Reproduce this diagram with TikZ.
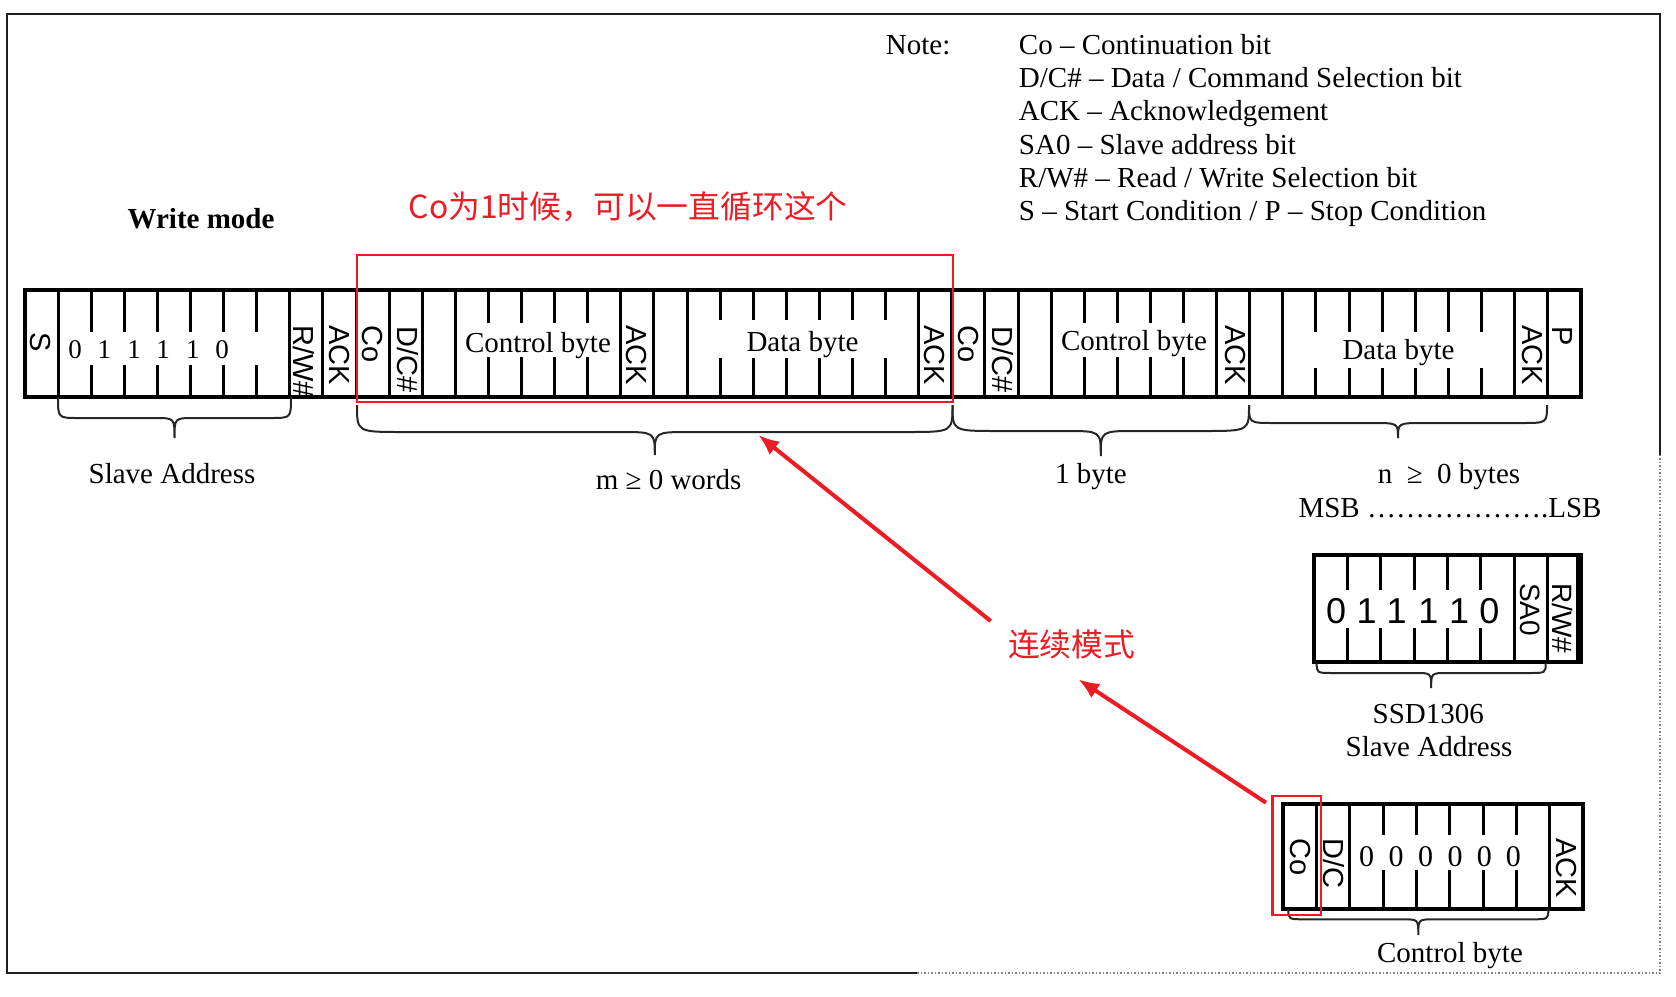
\documentclass[tikz,border=0pt]{standalone}
\usepackage{fontspec}
\setmainfont{Liberation Serif}
\newfontfamily\arialf{Liberation Sans}
\newfontfamily\cjkf{Noto Sans CJK SC}
\usetikzlibrary{arrows.meta}
\definecolor{myred}{RGB}{237,28,36}
\definecolor{framecol}{RGB}{30,30,30}
\newcommand{\drawbrace}[7]{%
  \pgfmathsetmacro{\bxm}{(#1+#2)/2}%
  \draw[bracel] (#1,#3) .. controls (#1,#4) .. ({#1+#6},#4) -- ({\bxm-#7},#4)
    .. controls (\bxm,#4) .. (\bxm,#5) .. controls (\bxm,#4) .. ({\bxm+#7},#4)
    -- ({#2-#6},#4) .. controls (#2,#4) .. (#2,#3);}
\tikzset{
  outer/.style={line width=4pt, draw=black},
  tick/.style={line width=3pt, draw=black},
  bracel/.style={line width=2pt, draw=black!85},
  gapbox/.style={fill=white, draw=none},
  serif/.style={font=\fontsize{29}{33}\selectfont, inner sep=0pt},
  lab/.style={font=\arialf\fontsize{29}{33}\selectfont, rotate=-90, anchor=west, inner sep=0pt},
  labc/.style={font=\arialf\fontsize{29}{33}\selectfont, rotate=-90, inner sep=0pt},
  lab28/.style={font=\arialf\fontsize{28}{32}\selectfont, rotate=-90, anchor=west, inner sep=0pt},
  digs/.style={font=\fontsize{27}{30}\selectfont, inner sep=0pt, anchor=base},
  digz/.style={font=\fontsize{30}{33}\selectfont, inner sep=0pt, anchor=base},
  digsans/.style={font=\arialf\fontsize{36}{40}\selectfont, inner sep=0pt, anchor=base},
  notetext/.style={font=\fontsize{29}{33}\selectfont, inner sep=0pt, anchor=base west},
  redtext/.style={font=\cjkf\fontsize{31.8}{36}\selectfont, text=myred, inner sep=0pt},
  redbox/.style={draw=myred, line width=2.5pt},
  redarrow/.style={draw=myred, line width=4pt, -{Latex[length=21pt,width=17pt]}},
  frame/.style={draw=framecol, line width=2.5pt},
  framedot/.style={draw=gray, line width=1.5pt, dotted}
}
\begin{document}
\begin{tikzpicture}[x=1pt,y=-1pt]
\useasboundingbox (0,0) rectangle (1676,996);
% frame
\draw[frame] (1660,455) -- (1660,14) -- (7,14) -- (7,973) -- (917,973);
\draw[framedot] (917,973) -- (1660,973) -- (1660,455);

% note block
\node[notetext] (note) at (885.7,54) {Note:};
\node[notetext] (n1) at (1018.75,54) {Co – Continuation bit};
\node[notetext] (n2) at (1018.75,87.3) {D/C\# – Data / Command Selection bit};
\node[notetext] (n3) at (1018.75,120.7) {ACK – Acknowledgement};
\node[notetext] (n4) at (1018.75,154) {SA0 – Slave address bit};
\node[notetext] (n5) at (1018.75,187.3) {R/W\# – Read / Write Selection bit};
\node[notetext] (n6) at (1018.75,220.7) {S – Start Condition / P – Stop Condition};

\node[notetext, font=\bfseries\fontsize{29}{33}\selectfont] (wm) at (127.4,228) {Write mode};
\node[redtext, anchor=base west] (loop) at (408.7,218) {Co为1时候，可以一直循环这个};

% main bar
\foreach \i in {1,...,46}
  \draw[tick] ({25+\i*33.1},290) -- ({25+\i*33.1},397);
\draw[outer] (25,290) rectangle (1580.7,397);
% gaps for texts
\fill[gapbox] (60,332) rectangle (259,365);
\fill[gapbox] (458,323) rectangle (619,357);
\fill[gapbox] (690,320) rectangle (917,358);
\fill[gapbox] (1053,323) rectangle (1215,357);
\fill[gapbox] (1285,332) rectangle (1513,368);

% slave address digits
\node[digs] (d1) at (75,358) {0};
\node[digs] (d2) at (104.3,358) {1};
\node[digs] (d3) at (134,358) {1};
\node[digs] (d4) at (163.2,358) {1};
\node[digs] (d5) at (192.9,358) {1};
\node[digs] (d6) at (222,358) {0};

\node[serif, anchor=base] (cb1) at (538,352) {Control byte};
\node[serif, anchor=base] (db1) at (802.5,351.7) {Data byte};
\node[serif, anchor=base] (cb2) at (1134,350) {Control byte};
\node[serif, anchor=base] (db2) at (1398.5,359.3) {Data byte};

% rotated bit labels
\node[labc] (ls) at (40,342) {S};
\node[lab] (lrw) at (304,325) {R/W\#};
\node[lab] (lack1) at (339.3,325) {ACK};
\node[lab] (lco1) at (372.3,325) {Co};
\node[lab] (ldc1) at (408,326) {D/C\#};
\node[lab] (lack2) at (636,325) {ACK};
\node[lab] (lack3) at (934,325) {ACK};
\node[lab] (lco2) at (968,325) {Co};
\node[lab] (ldc2) at (1003,326) {D/C\#};
\node[lab] (lack4) at (1235,325) {ACK};
\node[lab] (lack5) at (1532,325) {ACK};
\node[lab] (lp) at (1562,326) {P};

% red loop box
\draw[redbox] (357,255) rectangle (953,402);

% braces
\drawbrace{58}{291}{397}{418}{438}{20}{20}
\drawbrace{357}{952.5}{405}{432}{455}{45}{35}
\drawbrace{952.5}{1249}{405}{431}{456}{45}{35}
\drawbrace{1249}{1547}{405}{423}{438}{25}{26}

\node[serif, anchor=base] (lsa) at (172,483) {Slave Address};
\node[serif, anchor=base] (lm) at (668.6,489) {m ≥ 0 words};
\node[serif, anchor=base] (l1) at (1091,483) {1 byte};
\node[serif, anchor=base] (ln) at (1449,483) {n~~≥~~0 bytes};
\node[serif, anchor=base] (lmsb) at (1450,517) {MSB ……………….LSB};

% SSD1306 slave address box
\foreach \i in {1,...,7}
  \draw[tick] ({1314.3+\i*33.3},555) -- ({1314.3+\i*33.3},662);
\draw[outer] (1314.3,555) rectangle (1580.7,662);
\draw[line width=3pt] (1577.5,557) -- (1577.5,660);
\fill[gapbox] (1317,590) rectangle (1511,628);
\node[digsans] (s1) at (1336,623) {0};
\node[digsans] (s2) at (1366.7,623) {1};
\node[digsans] (s3) at (1396.7,623) {1};
\node[digsans] (s4) at (1428.3,623) {1};
\node[digsans] (s5) at (1459,623) {1};
\node[digsans] (s6) at (1489.3,623) {0};
\node[lab28] (lsa0) at (1530,583) {SA0};
\node[lab28] (lrw2) at (1562,583) {R/W\#};
\drawbrace{1316.7}{1545.7}{663}{673}{688}{17}{16}
\node[serif, anchor=base] (lssd) at (1428.3,723) {SSD1306};
\node[serif, anchor=base] (lsa2) at (1429,756) {Slave Address};

% control byte box
\foreach \i in {1,...,8}
  \draw[tick] ({1283.3+\i*33.33},804.3) -- ({1283.3+\i*33.33},909.3);
\draw[outer] (1283.3,804.3) rectangle (1583.3,909.3);
\fill[gapbox] (1352,835) rectangle (1548,870);
\node[digz] (z1) at (1366.7,866.7) {0};
\node[digz] (z2) at (1396,866.7) {0};
\node[digz] (z3) at (1425.7,866.7) {0};
\node[digz] (z4) at (1455,866.7) {0};
\node[digz] (z5) at (1484.3,866.7) {0};
\node[digz] (z6) at (1513.3,866.7) {0};
\node[lab] (lco3) at (1300,838) {Co};
\node[lab] (ldc3) at (1333.5,838) {D/C};
\node[lab] (lack6) at (1566,838) {ACK};
\drawbrace{1288.3}{1548.3}{909}{919.3}{935}{17}{16}
\node[serif, anchor=base] (lcb) at (1450,962) {Control byte};
\draw[redbox] (1272.3,796) rectangle (1321,915);

% red annotation
\node[redtext] (cont) at (1071.7,644) {连续模式};
\coordinate (a1s) at (990.7,621);
\coordinate (a1e) at (758.3,435);
\coordinate (a2s) at (1266,802.7);
\coordinate (a2e) at (1078.3,679.3);
\draw[redarrow] (a1s) -- (a1e);
\draw[redarrow] (a2s) -- (a2e);
\end{tikzpicture}
\end{document}
